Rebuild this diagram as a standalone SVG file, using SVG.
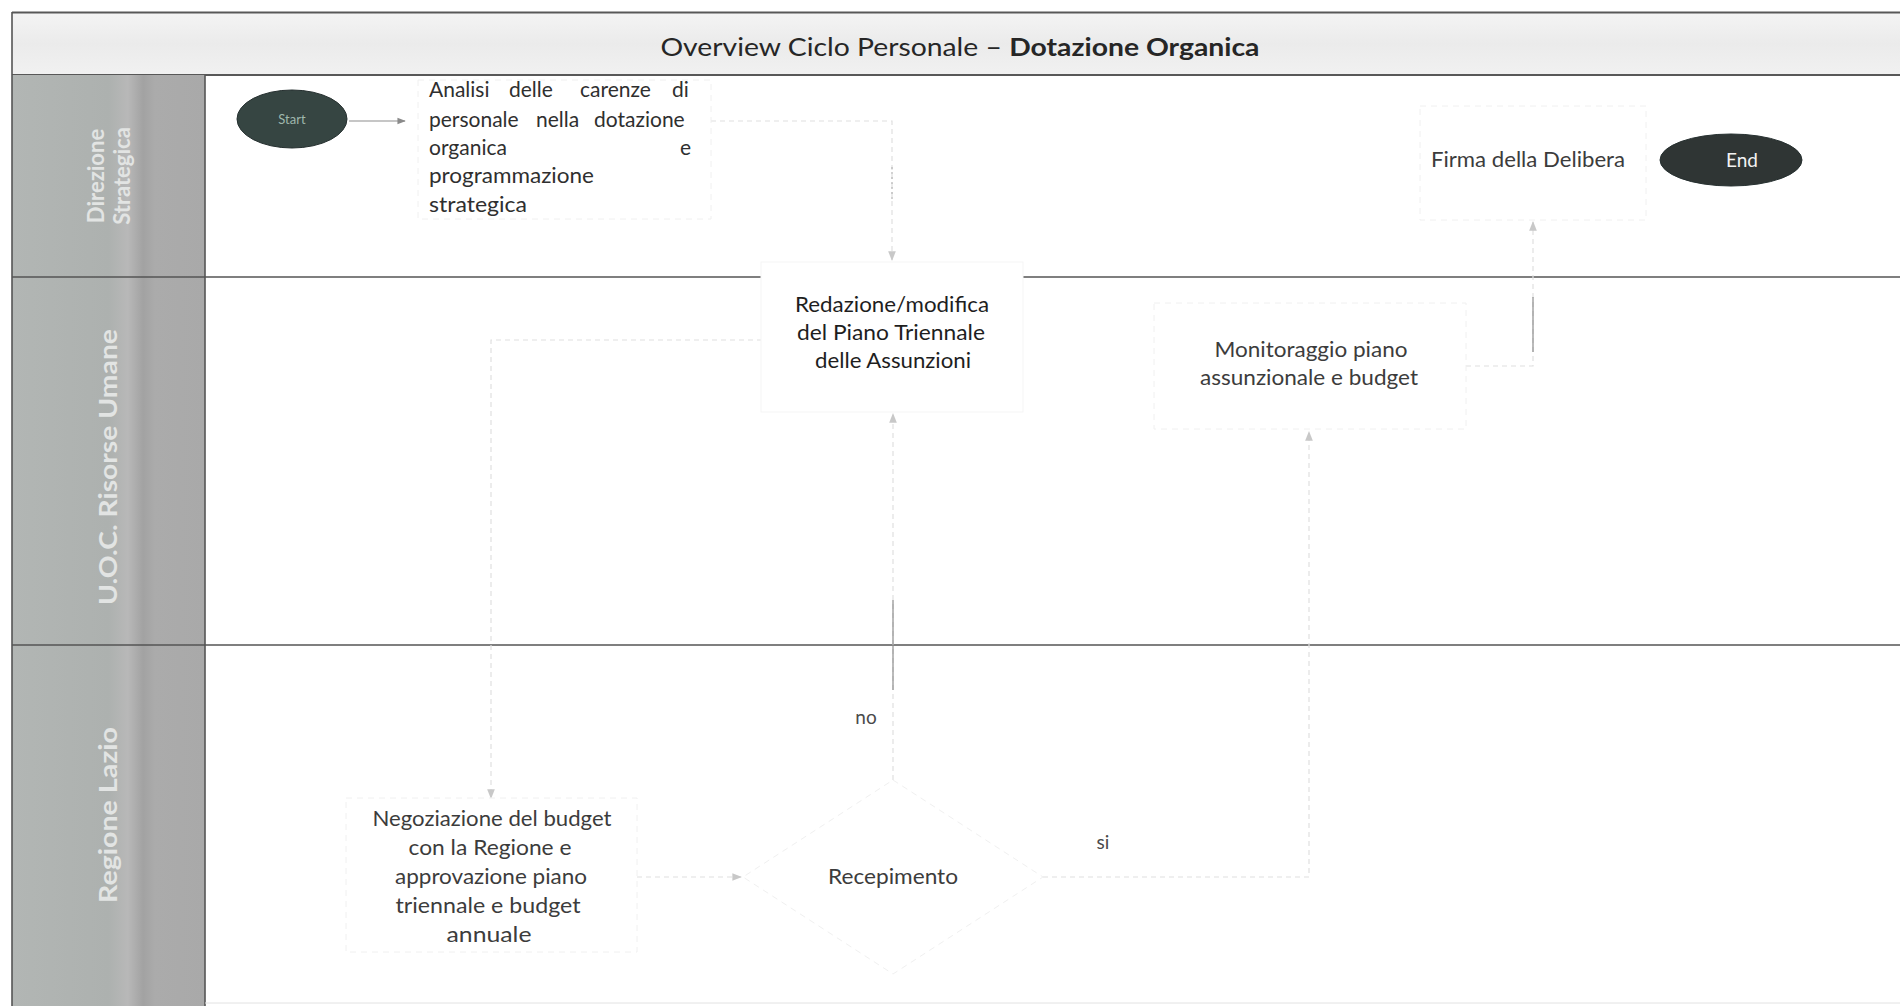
<svg xmlns="http://www.w3.org/2000/svg" width="1900" height="1006" viewBox="0 0 1900 1006">
  <defs>
    <style>
      .t { font-family: Lato, "Open Sans", "Liberation Sans", sans-serif; }
      .body { font-size: 21px; }
      .ink { fill: #2f2f2f; }
      .ink-dark { fill: #1e1e1e; }
      .ink-soft { fill: #3c3c3c; }
      .ink-label { fill: #4a4a4a; }
      .lane-label { font-family: Lato, "Open Sans", "Liberation Sans", sans-serif; font-weight: bold; fill: #e2e4e3; text-anchor: middle; }
      .frame { stroke: #585858; stroke-width: 2; fill: none; }
      .divider { stroke: #555555; stroke-width: 1.6; fill: none; }
      .shape { fill: #ffffff; stroke: #f0f0f0; stroke-width: 1; stroke-dasharray: 6 5; }
      .conn { fill: none; stroke: #e0e0e0; stroke-width: 1.2; stroke-dasharray: 5 4; }
      .conn-dark { fill: none; stroke: #8e8e8e; stroke-width: 1.2; }
      .term { stroke: #263030; stroke-width: 1; }
    </style>
    <linearGradient id="titleFill" x1="0" y1="0" x2="0" y2="1">
      <stop offset="0" stop-color="#f4f4f4"/>
      <stop offset="0.5" stop-color="#ebebeb"/>
      <stop offset="1" stop-color="#f1f1f1"/>
    </linearGradient>
    <linearGradient id="headerFill" x1="0" y1="0" x2="1" y2="0">
      <stop offset="0" stop-color="#b2b6b4"/>
      <stop offset="0.5" stop-color="#adb1af"/>
      <stop offset="0.6" stop-color="#b8b8b8"/>
      <stop offset="0.68" stop-color="#a2a2a2"/>
      <stop offset="0.74" stop-color="#ababab"/>
      <stop offset="1" stop-color="#a9a9a9"/>
    </linearGradient>
    <marker id="arrow" viewBox="0 0 10 10" refX="9" refY="5" markerWidth="7" markerHeight="7" orient="auto">
      <path d="M0,1 L10,5 L0,9 z" fill="#8a8a8a"/>
    </marker>
    <marker id="arrowFaint" viewBox="0 0 10 10" refX="9" refY="5" markerWidth="8" markerHeight="8" orient="auto">
      <path d="M0,1 L10,5 L0,9 z" fill="#c8c8c8"/>
    </marker>
  </defs>

  <rect x="0" y="0" width="1900" height="1006" fill="#ffffff"/>

  <!-- pool: title bar, lane headers and lane dividers -->
  <g id="pool">
    <rect x="12" y="12" width="1888" height="63" fill="url(#titleFill)"/>
    <text class="t" x="960" y="56" text-anchor="middle" font-size="25" style="fill:#262626" textLength="599" lengthAdjust="spacingAndGlyphs">Overview Ciclo Personale – <tspan font-weight="bold">Dotazione Organica</tspan></text>
    <line class="frame" x1="12" y1="12.5" x2="1900" y2="12.5"/>
    <line class="frame" x1="12" y1="75" x2="1900" y2="75"/>

    <rect x="12" y="75" width="193" height="931" fill="url(#headerFill)"/>
    <line class="divider" x1="12" y1="12" x2="12" y2="1006"/>
    <line class="divider" x1="205" y1="75" x2="205" y2="1006"/>
    <line class="divider" x1="12" y1="277" x2="1900" y2="277"/>
    <line class="divider" x1="12" y1="645" x2="1900" y2="645"/>
    <line x1="205" y1="1003" x2="1900" y2="1003" stroke="#e2e2e2" stroke-width="1"/>

    <g id="lane-direzione">
      <text class="lane-label" font-size="22" transform="translate(104,176) rotate(-90)">Direzione</text>
      <text class="lane-label" font-size="22" transform="translate(130,176) rotate(-90)">Strategica</text>
    </g>
    <g id="lane-uoc">
      <text class="lane-label" font-size="24" transform="translate(117,467) rotate(-90)" textLength="276" lengthAdjust="spacingAndGlyphs">U.O.C. Risorse Umane</text>
    </g>
    <g id="lane-regione">
      <text class="lane-label" font-size="24" transform="translate(117,815) rotate(-90)" textLength="176" lengthAdjust="spacingAndGlyphs">Regione Lazio</text>
    </g>
  </g>

  <!-- connectors -->
  <g id="connectors">
    <path class="conn-dark" d="M349,121 H405" marker-end="url(#arrow)"/>
    <path class="conn" d="M711,121 H892 V260" marker-end="url(#arrowFaint)"/>
    <path d="M892,167 V200" stroke="#b5b5b5" stroke-width="1.2" stroke-dasharray="2 3" fill="none"/>
    <path class="conn" d="M762,340 H491 V798" marker-end="url(#arrowFaint)"/>
    <path class="conn" d="M637,877 H741" marker-end="url(#arrowFaint)"/>
    <path class="conn" d="M893,780 V414" marker-end="url(#arrowFaint)"/>
    <path class="conn-dark" d="M893,600 V690" stroke-width="1"/>
    <path class="conn" d="M1043,877 H1309 V432" marker-end="url(#arrowFaint)"/>
    <path class="conn" d="M1466,366 H1533 V222" marker-end="url(#arrowFaint)"/>
    <path class="conn-dark" d="M1533,297 V352" stroke-width="1"/>
    <text class="t ink-label" x="866" y="724" font-size="19" text-anchor="middle">no</text>
    <text class="t ink-label" x="1103" y="849" font-size="19" text-anchor="middle">si</text>
  </g>

  <!-- start event -->
  <g id="n-start">
    <ellipse class="term" cx="292" cy="119" rx="55" ry="29" fill="#364542"/>
    <text class="t" x="292" y="124" font-size="13" text-anchor="middle" style="fill:#9fb8ad">Start</text>
  </g>

  <!-- analysis of staffing gaps -->
  <g id="n-analisi">
    <rect class="shape" x="418" y="80" width="293" height="139" style="fill:none"/>
    <text class="t body ink" y="97">
      <tspan x="429">Analisi</tspan><tspan x="509">delle</tspan><tspan x="580">carenze</tspan><tspan x="672">di</tspan>
    </text>
    <text class="t body ink" y="127">
      <tspan x="429">personale</tspan><tspan x="536">nella</tspan><tspan x="594">dotazione</tspan>
    </text>
    <text class="t body ink" y="155">
      <tspan x="429">organica</tspan><tspan x="680">e</tspan>
    </text>
    <text class="t body ink" x="429" y="183" textLength="165" lengthAdjust="spacingAndGlyphs">programmazione</text>
    <text class="t body ink" x="429" y="212" textLength="98" lengthAdjust="spacingAndGlyphs">strategica</text>
  </g>

  <!-- three-year hiring plan -->
  <g id="n-redazione">
    <rect x="761" y="262" width="262" height="150" fill="#ffffff" stroke="#f5f5f5" stroke-width="1"/>
    <text class="t body ink-dark" x="892" y="312" text-anchor="middle" textLength="194" lengthAdjust="spacingAndGlyphs">Redazione/modifica</text>
    <text class="t body ink-dark" x="891" y="340" text-anchor="middle" textLength="188" lengthAdjust="spacingAndGlyphs">del Piano Triennale</text>
    <text class="t body ink-dark" x="893" y="368" text-anchor="middle" textLength="156" lengthAdjust="spacingAndGlyphs">delle Assunzioni</text>
  </g>

  <!-- monitoring -->
  <g id="n-monitoraggio">
    <rect class="shape" x="1154" y="303" width="312" height="126"/>
    <text class="t body ink-soft" x="1311" y="357" text-anchor="middle" textLength="193" lengthAdjust="spacingAndGlyphs">Monitoraggio piano</text>
    <text class="t body ink-soft" x="1309" y="385" text-anchor="middle" textLength="218" lengthAdjust="spacingAndGlyphs">assunzionale e budget</text>
  </g>

  <!-- signature -->
  <g id="n-firma">
    <rect class="shape" x="1420" y="106" width="226" height="114"/>
    <text class="t body ink-soft" x="1528" y="167" text-anchor="middle" textLength="194" lengthAdjust="spacingAndGlyphs">Firma della Delibera</text>
  </g>

  <!-- end event -->
  <g id="n-end">
    <ellipse class="term" cx="1731" cy="160" rx="71" ry="26" fill="#2f3534"/>
    <text class="t" x="1742" y="167" font-size="19" text-anchor="middle" style="fill:#f2f2f2">End</text>
  </g>

  <!-- regional negotiation -->
  <g id="n-negoziazione">
    <rect class="shape" x="346" y="798" width="291" height="154"/>
    <text class="t body ink-soft" x="492" y="826" text-anchor="middle" textLength="239" lengthAdjust="spacingAndGlyphs">Negoziazione del budget</text>
    <text class="t body ink-soft" x="490" y="855" text-anchor="middle" textLength="163" lengthAdjust="spacingAndGlyphs">con la Regione e</text>
    <text class="t body ink-soft" x="491" y="884" text-anchor="middle" textLength="192" lengthAdjust="spacingAndGlyphs">approvazione piano</text>
    <text class="t body ink-soft" x="488" y="913" text-anchor="middle" textLength="185" lengthAdjust="spacingAndGlyphs">triennale e budget</text>
    <text class="t body ink-soft" x="489" y="942" text-anchor="middle" textLength="85" lengthAdjust="spacingAndGlyphs">annuale</text>
  </g>

  <!-- acceptance decision -->
  <g id="n-recepimento">
    <polygon class="shape" points="893,780 1043,877 893,974 743,877"/>
    <text class="t body ink-soft" x="893" y="884" text-anchor="middle" textLength="130" lengthAdjust="spacingAndGlyphs">Recepimento</text>
  </g>
</svg>
